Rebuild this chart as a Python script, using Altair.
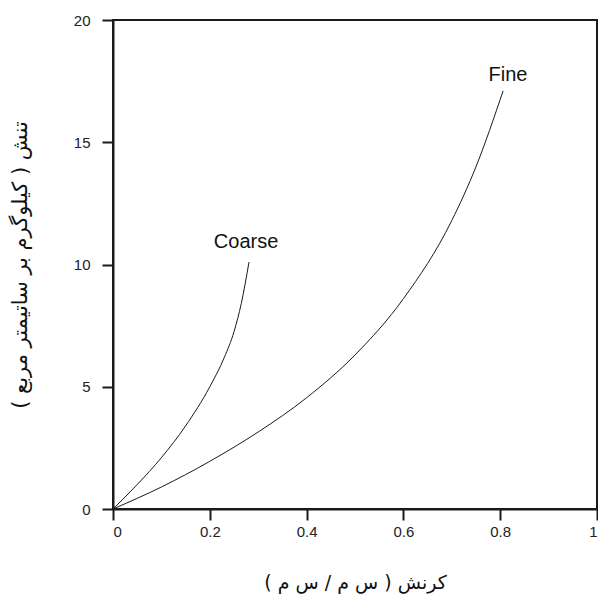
import altair as alt
import pandas as pd

fine_x = [0, 0.1, 0.2, 0.3, 0.4, 0.5, 0.6, 0.7, 0.75, 0.806]
fine_y = [0, 0.9, 1.95, 3.15, 4.55, 6.3, 8.6, 11.8, 14.0, 17.1]
coarse_x = [0, 0.05, 0.1, 0.15, 0.2, 0.23, 0.25, 0.265, 0.281]
coarse_y = [0, 1.0, 2.1, 3.4, 5.0, 6.2, 7.25, 8.4, 10.1]
label_text = ["Coarse", "Fine"]
label_x = [0.275, 0.816]
label_y = [10.9, 17.75]

x_title = "کرنش ( س م / س م )\u200f"
y_title = "تنش ( کیلوگرم بر ساتیمتر مربع )\u200f"

df = pd.concat([
    pd.DataFrame({"x": fine_x, "y": fine_y, "s": "Fine"}),
    pd.DataFrame({"x": coarse_x, "y": coarse_y, "s": "Coarse"}),
])
lab = pd.DataFrame({"t": label_text, "x": label_x, "y": label_y})

xs = alt.Scale(domain=[0, 1], nice=False, zero=False)
ys = alt.Scale(domain=[0, 20], nice=False, zero=False)

xax = alt.Axis(values=[0, 0.2, 0.4, 0.6, 0.8, 1], format="~g", title=x_title,
               titlePadding=34, titleFontSize=19)
yax = alt.Axis(values=[0, 5, 10, 15, 20], title=y_title,
               titlePadding=43, titleFontSize=21, labelPadding=12)

lines = alt.Chart(df).mark_line(color="#1a1a1a", strokeWidth=1, interpolate="monotone").encode(
    x=alt.X("x:Q", scale=xs, axis=xax),
    y=alt.Y("y:Q", scale=ys, axis=yax),
    detail="s:N",
)
texts = alt.Chart(lab).mark_text(fontSize=20, font="Liberation Sans", color="#111").encode(
    x=alt.X("x:Q", scale=xs, axis=xax),
    y=alt.Y("y:Q", scale=ys, axis=yax),
    text="t:N",
)

chart = (lines + texts).properties(
    width=484, height=489,
    autosize=alt.AutoSizeParams(type="none"),
    padding={"left": 113, "top": 20, "right": 1, "bottom": 91},
).configure_view(stroke="#1a1a1a", strokeWidth=2).configure_axis(
    grid=False, domainColor="#1a1a1a", domainWidth=2, tickColor="#1a1a1a",
    tickWidth=2, tickSize=11, labelFontSize=15, labelColor="#222",
    labelPadding=4, labelFont="Liberation Sans", titleFontWeight="normal",
    titleColor="#111", titleFont="DejaVu Sans",
)

chart.save("out.html", embed_options={"renderer": "svg", "actions": False})
